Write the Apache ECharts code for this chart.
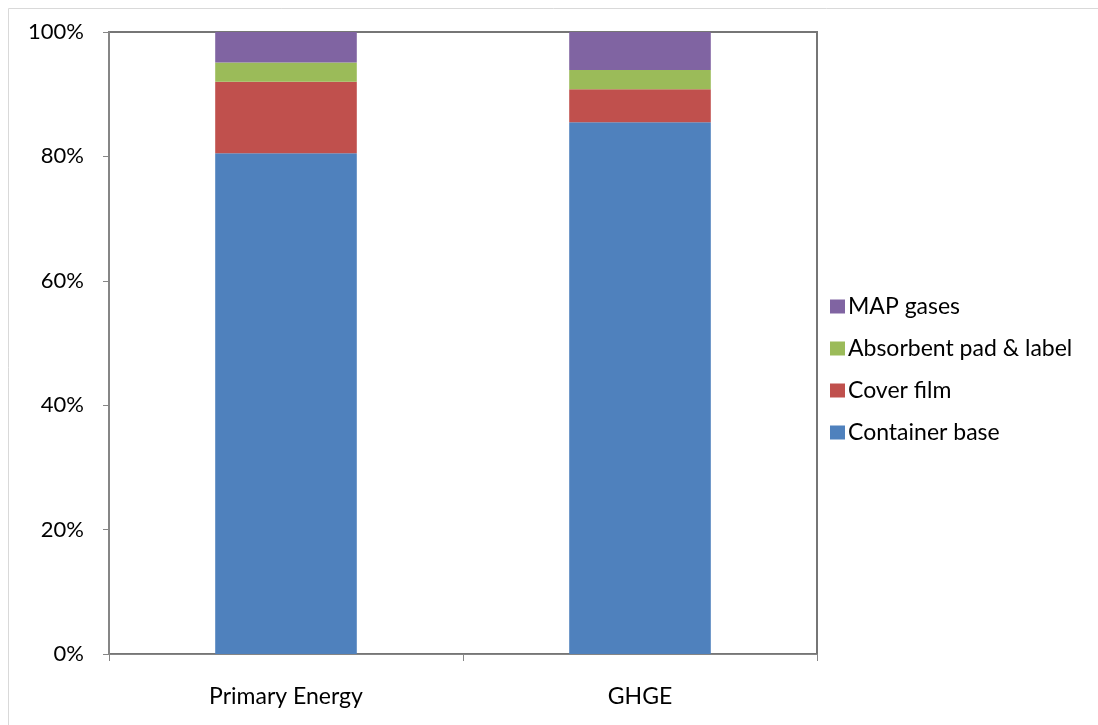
<!DOCTYPE html>
<html><head><meta charset="utf-8">
<script src="https://cdn.jsdelivr.net/npm/echarts@6/dist/echarts.min.js"></script>
<style>html,body{margin:0;padding:0;background:#fff}#c{width:1098px;height:725px}</style>
</head><body><div id="c"></div>
<script>
const categories = ['Primary Energy', 'GHGE'];
const containerBase = [80.5, 85.5];
const coverFilm = [11.5, 5.3];
const absorbentPad = [3.1, 3.1];
const mapGases = [4.9, 6.1];
const yTicks = [0, 20, 40, 60, 80, 100];

const FONT = 'Lato';
const chart = echarts.init(document.getElementById('c'), null, {renderer: 'canvas'});
const mk = (name, data, color) => ({
  name, type: 'bar', stack: 'total', data, barWidth: '40%',
  itemStyle: {color}, emphasis: {disabled: true}
});
chart.setOption({
  animation: false,
  textStyle: {fontFamily: FONT},
  graphic: [{type: 'rect', shape: {x: 8.5, y: 8.5, width: 1200, height: 800},
    style: {fill: null, stroke: '#d9d9d9', lineWidth: 1}, silent: true}],
  grid: {left: 109, right: 281, top: 32, bottom: 71, show: true,
    borderColor: '#767676', borderWidth: 2, backgroundColor: 'transparent'},
  legend: {
    orient: 'vertical', left: 825, top: 290, itemGap: 19, itemWidth: 15, itemHeight: 14,
    icon: 'rect',
    data: ['MAP gases', 'Absorbent pad & label', 'Cover film', 'Container base'],
    textStyle: {fontSize: 23, color: '#000', fontFamily: FONT, padding: [0, 0, 0, -2]}
  },
  xAxis: {
    type: 'category', data: categories,
    axisLine: {lineStyle: {color: '#868686', width: 1}},
    axisTick: {show: true, length: 7, lineStyle: {color: '#868686'}},
    axisLabel: {fontSize: 23, color: '#000', margin: 31, fontFamily: FONT}
  },
  yAxis: {
    type: 'value', min: yTicks[0], max: yTicks[yTicks.length - 1], interval: 20,
    splitLine: {show: false},
    axisLine: {show: true, lineStyle: {color: '#868686', width: 2}},
    axisTick: {show: true, length: 6, lineStyle: {color: '#868686'}},
    axisLabel: {formatter: '{value}%', fontSize: 22, color: '#000', margin: 25, fontFamily: FONT}
  },
  series: [
    mk('Container base', containerBase, '#4F81BD'),
    mk('Cover film', coverFilm, '#C0504D'),
    mk('Absorbent pad & label', absorbentPad, '#9BBB59'),
    mk('MAP gases', mapGases, '#8064A2')
  ]
});
</script></body></html>
